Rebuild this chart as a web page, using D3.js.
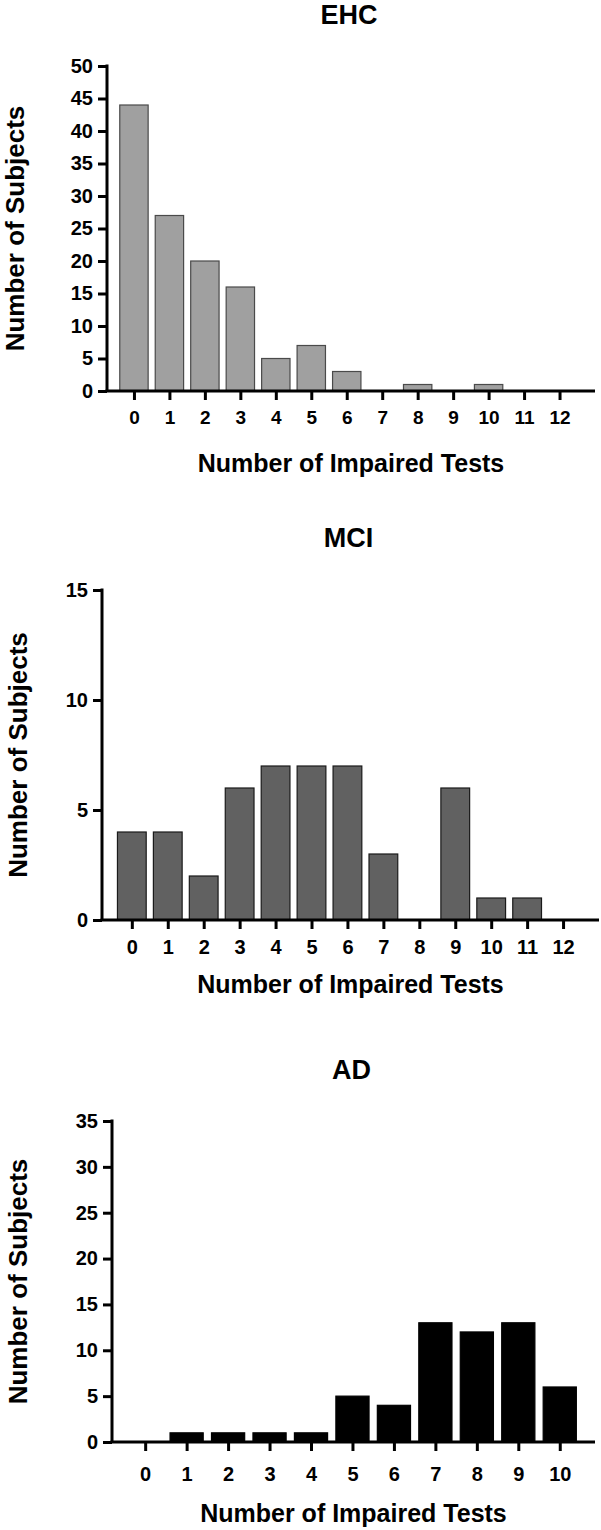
<!DOCTYPE html>
<html>
<head>
<meta charset="utf-8">
<script src="https://cdn.jsdelivr.net/npm/d3@7"></script>
<style>
  body { margin: 0; background: #fff; }
  svg text { font-family: "Liberation Sans", Arial, sans-serif; font-weight: bold; fill: #000; }
</style>
</head>
<body>
<svg id="chart" width="601" height="1530"></svg>
<script>
const ehcTests = [0, 1, 2, 3, 4, 5, 6, 7, 8, 9, 10, 11, 12];
const ehcCounts = [44, 27, 20, 16, 5, 7, 3, 0, 1, 0, 1, 0, 0];
const ehcYTicks = [0, 5, 10, 15, 20, 25, 30, 35, 40, 45, 50];

const mciTests = [0, 1, 2, 3, 4, 5, 6, 7, 8, 9, 10, 11, 12];
const mciCounts = [4, 4, 2, 6, 7, 7, 7, 3, 0, 6, 1, 1, 0];
const mciYTicks = [0, 5, 10, 15];

const adTests = [0, 1, 2, 3, 4, 5, 6, 7, 8, 9, 10];
const adCounts = [0, 1, 1, 1, 1, 5, 4, 13, 12, 13, 6];
const adYTicks = [0, 5, 10, 15, 20, 25, 30, 35];

function drawPanel(opts) {
  const svg = d3.select('#chart');
  const g = svg.append('g');

  const x = d3.scaleLinear()
              .domain(opts.xDomain)
              .range([opts.left, opts.right]);
  const y = d3.scaleLinear()
              .domain([0, d3.max(opts.yTicks)])
              .range([opts.bottom, opts.top]);

  const data = opts.tests.map((t, i) => ({ t: t, v: opts.counts[i] }));

  g.selectAll('.bar')
    .data(data.filter(d => d.v > 0))
    .enter()
    .append('rect')
      .classed('bar', true)
      .attr('x', d => x(d.t - 0.4))
      .attr('width', d => x(d.t + 0.4) - x(d.t - 0.4))
      .attr('y', d => y(d.v))
      .attr('height', d => y(0) - y(d.v))
      .attr('fill', opts.fill)
      .attr('stroke', opts.stroke)
      .attr('stroke-width', 1.2);

  const yAxis = d3.axisLeft(y)
                  .tickValues(opts.yTicks)
                  .tickSize(9)
                  .tickPadding(5)
                  .tickSizeOuter(0);
  const yg = g.append('g')
              .attr('transform', 'translate(' + opts.left + ',0)')
              .call(yAxis);
  yg.selectAll('text').attr('font-size', '20px');

  const xAxis = d3.axisBottom(x)
                  .tickValues(opts.tests)
                  .tickFormat(d3.format('d'))
                  .tickSize(9)
                  .tickPadding(opts.xTickPad)
                  .tickSizeOuter(0);
  const xg = g.append('g')
              .attr('transform', 'translate(0,' + opts.bottom + ')')
              .call(xAxis);
  xg.selectAll('text').attr('font-size', opts.xTickFont);

  g.selectAll('.domain, .tick line')
    .attr('stroke', '#000')
    .attr('stroke-width', 3);
  // extend the x axis line back to the y axis
  xg.select('.domain').attr('d', 'M' + (opts.left - 1.5) + ',0H' + opts.right);
  yg.select('.domain').attr('d', 'M0,' + (opts.top - 1.5) + 'V' + opts.bottom);

  const cx = (opts.left + opts.right) / 2;

  g.append('text')
    .attr('x', cx - 2)
    .attr('y', opts.titleY)
    .attr('font-size', '27px')
    .attr('text-anchor', 'middle')
    .text(opts.title);

  g.append('text')
    .attr('x', cx)
    .attr('y', opts.xLabelY)
    .attr('font-size', '25px')
    .attr('text-anchor', 'middle')
    .text('Number of Impaired Tests');

  g.append('text')
    .attr('transform', 'translate(' + opts.yLabelX + ',' + (opts.top + opts.bottom) / 2 + ') rotate(-90)')
    .attr('font-size', '26px')
    .attr('text-anchor', 'middle')
    .text('Number of Subjects');
}

drawPanel({
  title: 'EHC', tests: ehcTests, counts: ehcCounts, yTicks: ehcYTicks,
  xDomain: [-0.76, 13], left: 107, right: 595, top: 66, bottom: 391,
  fill: '#a0a0a0', stroke: '#4a4a4a',
  titleY: 24, xLabelY: 472, yLabelX: 24, xTickPad: 11, xTickFont: '19px'
});

drawPanel({
  title: 'MCI', tests: mciTests, counts: mciCounts, yTicks: mciYTicks,
  xDomain: [-0.83, 13], left: 102, right: 599, top: 590, bottom: 920,
  fill: '#616161', stroke: '#1a1a1a',
  titleY: 547, xLabelY: 993, yLabelX: 27, xTickPad: 11, xTickFont: '20px'
});

drawPanel({
  title: 'AD', tests: adTests, counts: adCounts, yTicks: adYTicks,
  xDomain: [-0.8, 10.85], left: 112, right: 595, top: 1121, bottom: 1442,
  fill: '#000', stroke: '#000',
  titleY: 1079, xLabelY: 1522, yLabelX: 27, xTickPad: 16, xTickFont: '20px'
});
</script>
</body>
</html>
